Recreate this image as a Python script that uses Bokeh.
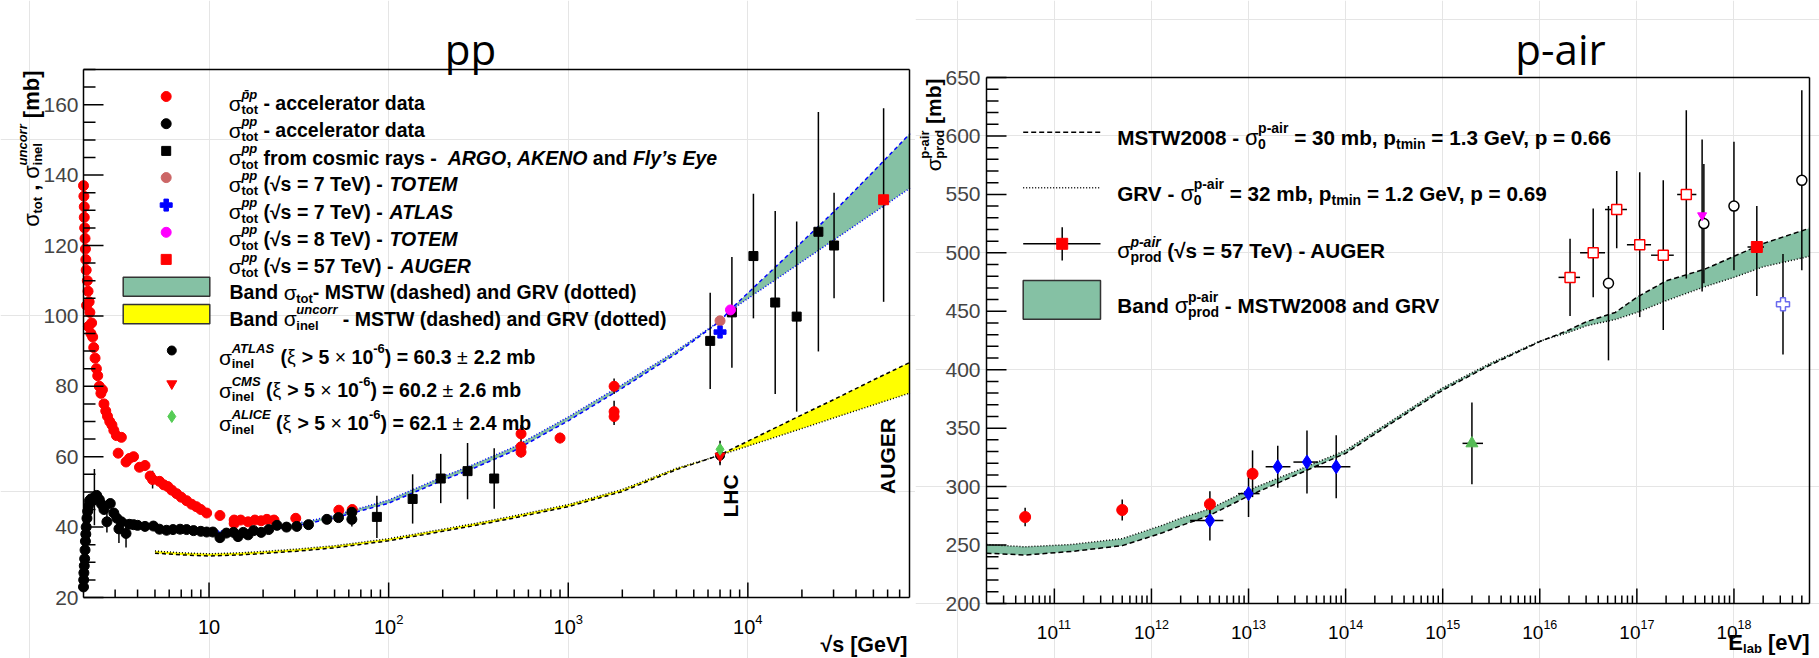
import numpy as np
from bokeh.plotting import figure
from bokeh.models import Range1d, Label
from bokeh.layouts import row
from bokeh.embed import file_html
from bokeh.resources import INLINE

# ======================= DATA : pp panel =======================
pbarp_sqrt_s = [2.00, 2.01, 2.02, 2.02, 2.03, 2.04, 2.05, 2.06, 2.07, 2.08, 2.10, 2.12, 2.13, 2.15, 2.17,
                2.20, 2.22, 2.25, 2.28, 2.32, 2.36, 2.40, 2.45, 2.50, 2.55, 2.60, 2.66, 2.72, 2.80, 2.88,
                2.95, 3.05, 3.12, 3.25, 3.45, 3.60, 3.80, 4.10, 4.40, 4.70, 4.85, 5.30, 5.60, 5.90, 6.20,
                6.60, 7.00, 7.50, 8.00, 8.50, 9.00, 9.70, 11.5, 13.8, 13.8, 15.0, 16.5, 18.0, 19.5, 21.0,
                23.0, 30.4, 52.8, 62.7, 546, 546, 546, 900, 1800, 1800, 1800]
pbarp_sigma = [137, 134, 131, 128, 125, 122, 119, 116, 113, 103, 110, 107, 97, 104, 101,
               95, 98, 94, 91, 88, 85, 83, 80, 78, 79, 75, 73, 71.5, 70, 69,
               67.5, 66, 61, 65.5, 58.5, 59.5, 60, 57, 57.5, 54.5, 53.5, 53, 52, 51.5, 50.5,
               49.5, 48.5, 47.5, 46.5, 45.8, 45, 44, 43.3, 42, 41, 42, 41.5, 42, 41.8, 42.2,
               42, 42.5, 44.8, 45, 66.5, 62.8, 61.3, 65.3, 80.0, 72.8, 71.4]
pbarp_err = [0] * 40 + [2.5] + [0] * 23 + [2.5, 1.5, 1.5, 1.5, 2.2, 3.1, 2.4]

pp_sqrt_s = [2.00, 2.005, 2.01, 2.02, 2.03, 2.04, 2.05, 2.06, 2.07, 2.09, 2.11, 2.13, 2.16, 2.20, 2.25,
             2.30, 2.37, 2.45, 2.52, 2.60, 2.70, 2.82, 2.95, 3.07, 3.15, 3.25, 3.45, 3.60, 3.80, 4.00,
             4.40, 4.90, 5.30, 5.80, 6.30, 6.90, 7.50, 8.20, 9.00, 9.70, 10.5, 11.5, 12.5, 13.7, 14.5,
             15.5, 16.5, 17.7, 19.5, 21.5, 23.9, 27.0, 30.8, 35.8, 45.3, 52.6, 62.4, 62.4]
pp_sigma = [23, 25, 27, 29, 31, 33.5, 36, 38, 40, 42.5, 44.5, 46, 47.5, 48, 47.5,
            48.5, 49, 47.8, 46.5, 45, 41.5, 46.7, 44, 42.5, 39.5, 41.5, 38.2, 40.8, 40.7, 40.5,
            40.2, 40.3, 39.4, 39.1, 39.3, 39.4, 39.3, 39.0, 38.8, 38.6, 38.6, 37.0, 38.3, 38.5, 37.3,
            38.5, 37.8, 39.0, 38.5, 39.3, 40.5, 40.0, 40.2, 40.7, 42.2, 42.7, 44.2, 42.2]
pp_err = [0] * 15 + [8, 0, 0, 0, 0, 3, 0, 0, 0, 4, 0, 4] + [0] * 30 + [2]

cosmic_sqrt_s = [86, 136, 195, 275, 387, 6170, 8150, 10740, 14200, 18700, 24700, 30200]
cosmic_sigma = [42.9, 48.0, 53.8, 55.9, 53.8, 92.9, 101.0, 117.0, 103.8, 99.8, 123.9, 120.0]
cosmic_err = [6.0, 7.0, 7.0, 8.0, 8.6, 13.7, 15.7, 17.7, 26.0, 27.0, 34.0, 15.0]

totem7_sqrt_s = [7000.0]
totem7_sigma = [98.6]
atlas7_sqrt_s = [7000.0]
atlas7_sigma = [95.4]
totem8_sqrt_s = [8000.0]
totem8_sigma = [101.7]
auger_pp_sqrt_s = [57000.0]
auger_pp_sigma = [133.0]
auger_pp_low = [104.0]
auger_pp_high = [159.0]

lhc_sqrt_s = [7000.0]
inel_atlas = [60.3]
inel_atlas_err = [2.2]
inel_cms = [60.2]
inel_cms_err = [2.6]
inel_alice = [62.1]
inel_alice_err = [2.4]

band_sqrt_s = [5, 7, 10, 15, 20, 30, 50, 100, 200, 300, 500, 1000, 2000, 4000, 7000, 8000,
               10000, 20000, 30000, 50000, 80000]
tot_mstw = [39.0, 38.6, 38.4, 38.6, 39.1, 40.3, 42.6, 46.8, 53.3, 56.8, 61.7, 70.2, 79.5, 89.3, 98.5, 101.8,
            106.5, 121.0, 129.5, 141.0, 151.8]
tot_grv = [39.4, 39.0, 38.8, 39.0, 39.6, 40.9, 43.3, 47.7, 54.3, 57.9, 62.8, 71.3, 80.5, 90.1, 98.6, 101.5,
           104.9, 115.4, 121.5, 129.2, 136.3]
inel_mstw = [32.6, 32.1, 31.8, 32.1, 32.5, 33.1, 34.1, 36.1, 38.8, 40.4, 42.6, 45.8, 50.1, 56.3, 60.5, 62.0,
             64.4, 71.9, 76.2, 81.8, 86.8]
inel_grv = [33.2, 32.7, 32.4, 32.7, 33.1, 33.7, 34.7, 36.7, 39.4, 41.0, 43.2, 46.4, 50.7, 56.7, 60.4, 61.4,
            63.0, 68.0, 71.0, 74.7, 78.1]

pp_y_ticks = [20, 40, 60, 80, 100, 120, 140, 160]
pp_x_ticks_exp = [1, 2, 3, 4]

# ======================= DATA : p-air panel =======================
red_E = [5e10, 5e11, 4e12, 1.1e13]
red_sig = [274, 280, 285, 311]
red_err = [8, 9, 11, 20]

blue_E = [4e12, 1e13, 2e13, 4e13, 8e13]
blue_sig = [271, 294, 317, 321, 317]
blue_err = [17, 20, 18, 27, 27]
blue_E_lo = [2.5e12, 7.8e12, 1.5e13, 2.9e13, 4.8e13]
blue_E_hi = [5.5e12, 1.3e13, 2.7e13, 5.2e13, 1.12e14]

green_E = [2e15]
green_sig = [337]
green_err = [35]
green_E_lo = [1.6e15]
green_E_hi = [2.6e15]

osq_E = [2.05e16, 3.55e16, 6.2e16, 1.07e17, 1.87e17, 3.23e17]
osq_sig = [479, 500, 537, 507, 498, 550]
osq_err = [33, 38, 33, 62, 64, 72]
osq_E_lo = [1.56e16, 2.6e16, 4.7e16, 7.9e16, 1.4e17, 2.6e17]
osq_E_hi = [2.6e16, 4.7e16, 7.9e16, 1.4e17, 2.4e17, 4.1e17]

ocirc_E = [5.1e16, 4.9e17, 1e18, 5e18]
ocirc_sig = [474, 525, 540, 562]
ocirc_err = [66, 51, 55, 77]

mag_E = [4.7e17]
mag_sig = [532]
mag_err = [65]

auger_E = [1.72e18]
auger_sig = [505]
auger_low = [463]
auger_high = [540]
auger_E_lo = [1.38e18]
auger_E_hi = [2.04e18]

bcross_E = [3.2e18]
bcross_sig = [456]
bcross_err = [43]

band_E = [2e10, 5e10, 1.5e11, 5e11, 1.3e12, 2e12, 4e12, 1e13, 3e13, 1e14, 3e14, 1e15, 3e15, 1e16, 2e16,
          3e16, 6e16, 1e17, 2e17, 5e17, 1e18, 2e18, 6e18]
pair_mstw = [243, 241.5, 244.5, 249.5, 260.5, 266.5, 275.5, 292, 309.5, 328.5, 354.5, 382.5, 403.5, 424, 434,
             441, 449, 462, 476, 486, 497, 508, 521]
pair_grv = [250.5, 248.5, 250.5, 255.5, 267, 273, 281, 297, 313, 331, 356.5, 384.5, 405, 424.5, 432,
            437.5, 443, 449, 459, 471, 479, 488, 497]

pair_y_ticks = [200, 250, 300, 350, 400, 450, 500, 550, 600, 650]
pair_x_ticks_exp = [11, 12, 13, 14, 15, 16, 17, 18]

# ======================= STYLE / LAYOUT =======================
FONT = "Liberation Sans"
GREEN = "#85c1a4"
W = 1819
H = 658
SPLIT = 915

# inner (drawn) frames, page pixels
L_LEFT, L_RIGHT, L_TOP, L_BOT = 83, 909, 69, 597
LX0, LX1 = float(np.log10(2.0)), 4.9
LY0, LY1 = 20.0, 170.0
R_LEFT, R_RIGHT, R_TOP, R_BOT = 986, 1809, 77, 603
RX0, RX1 = float(np.log10(2e10)), float(np.log10(6e18))
RY0, RY1 = 200.0, 650.0


def c1(px, py):
    lx = LX0 + (px - L_LEFT) / (L_RIGHT - L_LEFT) * (LX1 - LX0)
    return float(10.0 ** lx), float(LY1 - (py - L_TOP) / (L_BOT - L_TOP) * (LY1 - LY0))


def c2(px, py):
    lx = RX0 + (px - R_LEFT) / (R_RIGHT - R_LEFT) * (RX1 - RX0)
    return float(10.0 ** lx), float(RY1 - (py - R_TOP) / (R_BOT - R_TOP) * (RY1 - RY0))


def px1(x):
    return L_LEFT + (np.log10(x) - LX0) / (LX1 - LX0) * (L_RIGHT - L_LEFT)


def px2(x):
    return R_LEFT + (np.log10(x) - RX0) / (RX1 - RX0) * (R_RIGHT - R_LEFT)


def py1(v):
    return L_TOP + (LY1 - v) / (LY1 - LY0) * (L_BOT - L_TOP)


def py2(v):
    return R_TOP + (RY1 - v) / (RY1 - RY0) * (R_BOT - R_TOP)


W_REG = {' ': 278, '(': 333, ')': 333, ',': 278, '-': 333, '.': 278, '=': 584, '>': 584, '[': 278,
         ']': 278, '’': 222, '±': 584, '×': 584, '√': 549, 'σ': 600, 'ξ': 480, '\u0304': 0,
         'A': 667, 'B': 667, 'C': 722, 'D': 722, 'E': 667, 'F': 611, 'G': 778, 'H': 722, 'I': 278,
         'J': 500, 'K': 667, 'L': 556, 'M': 833, 'N': 722, 'O': 778, 'P': 667, 'Q': 778, 'R': 722,
         'S': 667, 'T': 611, 'U': 722, 'V': 667, 'W': 944, 'X': 667, 'Y': 667, 'Z': 611,
         'a': 556, 'b': 556, 'c': 500, 'd': 556, 'e': 556, 'f': 278, 'g': 556, 'h': 556, 'i': 222,
         'j': 222, 'k': 500, 'l': 222, 'm': 833, 'n': 556, 'o': 556, 'p': 556, 'q': 556, 'r': 333,
         's': 500, 't': 278, 'u': 556, 'v': 500, 'w': 722, 'x': 500, 'y': 500, 'z': 500}
W_BOLD = dict(W_REG)
W_BOLD.update({'[': 333, ']': 333, '’': 278, 'A': 722, 'B': 722, 'J': 556, 'K': 722, 'L': 611,
               'a': 556, 'b': 611, 'c': 556, 'd': 611, 'e': 556, 'f': 333, 'g': 611, 'h': 611,
               'i': 278, 'j': 278, 'k': 556, 'l': 278, 'm': 889, 'n': 611, 'o': 611, 'p': 611,
               'q': 611, 'r': 389, 's': 556, 't': 333, 'u': 611, 'v': 556, 'w': 778, 'x': 556,
               'y': 556, 'z': 500})


def tw(s, size, style):
    tbl = W_BOLD if "bold" in style else W_REG
    return sum(tbl.get(ch, 556) for ch in s) / 1000.0 * size


def rich(fig, conv, x, y, segs, rotate=False, align="left", font=FONT, color="black"):
    if len(segs) == 1 and not isinstance(segs[0], list):
        t, sz, st = segs[0][0], segs[0][1], segs[0][2]
        dx, dd = conv(x, y)
        fig.add_layout(Label(x=dx, y=dd, text=t.strip(" "), text_font=font, text_font_size=f"{sz}px",
                             text_font_style=st, text_baseline="alphabetic", text_align=align,
                             angle=(float(np.pi / 2) if rotate else 0.0), text_color=color))
        return
    widths = []
    for s in segs:
        if isinstance(s, list):
            widths.append(max(tw(t, sz, st) for t, sz, st, dy in s))
        else:
            widths.append(tw(s[0], s[1], s[2]))
    total = sum(widths)
    a = 0.0 if align == "left" else (-total if align == "right" else -total / 2.0)
    for s, w in zip(segs, widths):
        items = s if isinstance(s, list) else [s]
        for it in items:
            t, sz, st = it[0], it[1], it[2]
            dy = it[3] if len(it) > 3 else 0
            lead = len(t) - len(t.lstrip(" "))
            shift = tw(" " * lead, sz, st)
            txt = t.strip(" ")
            if not txt:
                continue
            if rotate:
                px, py = x - dy, y - (a + shift)
            else:
                px, py = x + a + shift, y - dy
            dx, dd = conv(px, py)
            fig.add_layout(Label(x=dx, y=dd, text=txt, text_font=font, text_font_size=f"{sz}px",
                                 text_font_style=st, text_baseline="alphabetic", text_align="left",
                                 angle=(float(np.pi / 2) if rotate else 0.0), text_color=color))
        a += w


def make_fig(width, conv, x_lo_px, x_hi_px):
    x0, y_top = conv(x_lo_px, 0)
    x1, y_bot = conv(x_hi_px, H)
    p = figure(width=width, height=H, x_axis_type="log", x_axis_location=None, y_axis_location=None,
               x_range=Range1d(x0, x1), y_range=Range1d(y_bot, y_top), title=None,
               output_backend="svg", toolbar_location=None,
               min_border_left=0, min_border_right=0, min_border_top=0, min_border_bottom=0)
    p.outline_line_color = None
    p.background_fill_color = "white"
    p.border_fill_color = "white"
    return p


def frame_and_ticks(fig, conv, left, right, top, bot, yt_major, yt_minor, xt_major, xt_minor,
                    ymaj_len=20, ymin_len=12, xmaj_len=15, xmin_len=8, ypix=None, xpix=None):
    x0s, x1s, y0s, y1s = [], [], [], []
    for (a, b, c, d) in [(left, top, right, top), (left, bot, right, bot), (left, top, left, bot),
                         (right, top, right, bot)]:
        xa, ya = conv(a, b)
        xb, yb = conv(c, d)
        x0s.append(xa); y0s.append(ya); x1s.append(xb); y1s.append(yb)
    for vals, ln in [(yt_major, ymaj_len), (yt_minor, ymin_len)]:
        for v in vals:
            py = ypix(v)
            xa, ya = conv(left, py)
            xb, yb = conv(left + ln, py)
            x0s.append(xa); y0s.append(ya); x1s.append(xb); y1s.append(yb)
    for vals, ln in [(xt_major, xmaj_len), (xt_minor, xmin_len)]:
        for v in vals:
            px = xpix(v)
            xa, ya = conv(px, bot)
            xb, yb = conv(px, bot - ln)
            x0s.append(xa); y0s.append(ya); x1s.append(xb); y1s.append(yb)
    fig.segment(x0=x0s, x1=x1s, y0=y0s, y1=y1s, line_color="black", line_width=1.5)


def errbars(fig, xs, ys, errs, color="black", lo=None, hi=None):
    x0, y0, y1 = [], [], []
    for i, (x, y) in enumerate(zip(xs, ys)):
        if lo is not None:
            x0.append(x); y0.append(lo[i]); y1.append(hi[i])
        elif errs[i] > 0:
            x0.append(x); y0.append(y - errs[i]); y1.append(y + errs[i])
    if x0:
        fig.segment(x0=x0, x1=x0, y0=y0, y1=y1, line_color=color, line_width=1.5)


def herrbars(fig, lo, hi, ys, color="black"):
    fig.segment(x0=lo, x1=hi, y0=ys, y1=ys, line_color=color, line_width=1.5)


# ======================= LEFT : pp =======================
p1 = make_fig(SPLIT, c1, 0, SPLIT)

p1.varea(x=band_sqrt_s, y1=tot_grv, y2=tot_mstw, fill_color=GREEN)
p1.varea(x=band_sqrt_s, y1=inel_grv, y2=inel_mstw, fill_color="#ffff00")
p1.line(band_sqrt_s, tot_mstw, line_color="blue", line_width=1.5, line_dash="4 3")
p1.line(band_sqrt_s, tot_grv, line_color="blue", line_width=1.5, line_dash="1 2")
p1.line(band_sqrt_s, inel_mstw, line_color="black", line_width=1.5, line_dash="4 3")
p1.line(band_sqrt_s, inel_grv, line_color="black", line_width=1.5, line_dash="1 2")

errbars(p1, pbarp_sqrt_s, pbarp_sigma, pbarp_err)
errbars(p1, pp_sqrt_s, pp_sigma, pp_err)
errbars(p1, cosmic_sqrt_s, cosmic_sigma, cosmic_err)
errbars(p1, auger_pp_sqrt_s, auger_pp_sigma, None, lo=auger_pp_low, hi=auger_pp_high)
errbars(p1, lhc_sqrt_s * 3, inel_atlas + inel_cms + inel_alice, inel_atlas_err + inel_cms_err + inel_alice_err)

p1.scatter(pbarp_sqrt_s, pbarp_sigma, marker="circle", size=10, fill_color="red", line_color="red")
p1.scatter(pp_sqrt_s, pp_sigma, marker="circle", size=10, fill_color="black", line_color="black")
p1.scatter(cosmic_sqrt_s, cosmic_sigma, marker="square", size=9, fill_color="black", line_color="black")
p1.scatter(totem7_sqrt_s, totem7_sigma, marker="circle", size=10, fill_color="#cc6666", line_color="#cc6666")
p1.scatter(atlas7_sqrt_s, atlas7_sigma, marker="plus", size=12, fill_color="blue", line_color="blue")
p1.scatter(totem8_sqrt_s, totem8_sigma, marker="circle", size=10, fill_color="#ff00ff", line_color="#ff00ff")
p1.scatter(auger_pp_sqrt_s, auger_pp_sigma, marker="square", size=10, fill_color="red", line_color="red")
p1.scatter(lhc_sqrt_s, inel_atlas, marker="circle", size=9, fill_color="black", line_color="black")
p1.scatter(lhc_sqrt_s, inel_cms, marker="inverted_triangle", size=10, fill_color="red", line_color="red")
p1.scatter(lhc_sqrt_s, inel_alice, marker="diamond", size=12, fill_color="#55cc55", line_color="#55cc55")

minor_l = [m * 10.0 ** e for e in range(0, 5) for m in range(2, 10) if 2 < m * 10.0 ** e < 10 ** 4.9]
frame_and_ticks(p1, c1, L_LEFT, L_RIGHT, L_TOP, L_BOT,
                pp_y_ticks, [v for v in range(25, 171, 5) if v % 20 != 0],
                [10.0 ** e for e in pp_x_ticks_exp], minor_l, ypix=py1, xpix=px1)

M = 19.5
S = 13
SUPY = 9
SUBY = -6.5
sig = ("σ", 21, "normal", 0)


def stk(sup, sub, sup_style="bold italic"):
    return [(sup, S, sup_style, SUPY), (sub, S, "bold", SUBY)]


leg_y = [96, 123.2, 150.4, 177.1, 204.6, 231.8, 258.9]
leg_mk = [("circle", "red", 10), ("circle", "black", 10), ("square", "black", 9),
          ("circle", "#cc6666", 10), ("plus", "blue", 12), ("circle", "#ff00ff", 10), ("square", "red", 10)]
for yy, (mk, col, sz) in zip(leg_y, leg_mk):
    xx, yd = c1(165.7, yy)
    p1.scatter([xx], [yd], marker=mk, size=sz, fill_color=col, line_color=col)

TX = 228.3
rich(p1, c1, TX, leg_y[0] + 6.6, [sig, stk("p\u0304p", "tot"), (" - accelerator data", M, "bold")])
rich(p1, c1, TX, leg_y[1] + 6.6, [sig, stk("pp", "tot"), (" - accelerator data", M, "bold")])
rich(p1, c1, TX, leg_y[2] + 6.6, [sig, stk("pp", "tot"), (" from cosmic rays -  ", M, "bold"),
                                  ("ARGO", M, "bold italic"), (", ", M, "bold"), ("AKENO", M, "bold italic"),
                                  (" and ", M, "bold"), ("Fly’s Eye", M, "bold italic")])
for yy, e, ex in [(leg_y[3], "7", "TOTEM"), (leg_y[4], "7", "ATLAS"), (leg_y[5], "8", "TOTEM"),
                  (leg_y[6], "57", "AUGER")]:
    rich(p1, c1, TX, yy + 6.6, [sig, stk("pp", "tot"), (f" (√s = {e} TeV) - ", M, "bold"),
                                (ex, M, "bold italic")])

for (y0, y1, col) in [(276.8, 295.7, GREEN), (304.0, 323.2, "#ffff00")]:
    l, t = c1(122.7, y0)
    r, b = c1(209.3, y1)
    p1.quad(left=[l], right=[r], top=[t], bottom=[b], fill_color=col, line_color="#333333", line_width=1.5)
rich(p1, c1, 229, 291.7, [("Band ", M, "bold"), sig, ("tot", S, "bold", SUBY),
                          ("- MSTW (dashed) and GRV (dotted)", M, "bold")])
rich(p1, c1, 229, 318.3, [("Band ", M, "bold"), sig, stk("uncorr", "inel"),
                          (" - MSTW (dashed) and GRV (dotted)", M, "bold")])

leg2 = [(350, "circle", "black", 9, "ATLAS", "60.3", "2.2"),
        (383.2, "inverted_triangle", "red", 10, "CMS", "60.2", "2.6"),
        (416, "diamond", "#55cc55", 12, "ALICE", "62.1", "2.4")]
for yy, mk, col, sz, exp, val, er in leg2:
    xx, yd = c1(171.3, yy)
    p1.scatter([xx], [yd], marker=mk, size=sz, fill_color=col, line_color=col)
    rich(p1, c1, 218.6, yy + 6.5, [sig, stk(exp, "inel"), (" (", M, "bold"), ("ξ", M, "normal"),
                                   (" > 5 ", M, "bold"), ("×", M, "normal"), (" 10", M, "bold"),
                                   ("-6", S, "bold", SUPY), (f") = {val} ", M, "bold"), ("±", M, "normal"),
                                   (f" {er} mb", M, "bold")])

rich(p1, c1, 730, 495.5, [("LHC", 21, "bold")], rotate=True, align="center")
rich(p1, c1, 887, 455.5, [("AUGER", 21, "bold")], rotate=True, align="center")

for v in pp_y_ticks:
    xx, _ = c1(78, 0)
    p1.add_layout(Label(x=xx, y=float(v), text=str(v), text_font=FONT, text_font_size="21px",
                        text_align="right", text_baseline="middle"))
for e in pp_x_ticks_exp:
    segs = [("10", 20, "normal", 0)]
    if e > 1:
        segs.append((str(e), 13, "normal", 8))
    rich(p1, c1, px1(10.0 ** e), 626.7, segs, align="center")

rich(p1, c1, 907, 644, [("√s [GeV]", 21.5, "bold")], align="right")
rich(p1, c1, 30.5, 70, [("σ", 22, "normal", 0), ("tot", 13, "bold", -6), (" , ", 22, "bold", 0),
                        ("σ", 22, "normal", 0),
                        [("uncorr", 13, "bold italic", 9), ("inel", 13, "bold", -6)],
                        (" [mb]", 22, "bold", 0)], rotate=True, align="right")
rich(p1, c1, 470, 48, [("pp", 42, "normal")], align="center", font="Open Sans")

# ======================= RIGHT : p-air =======================
p2 = make_fig(W - SPLIT, c2, SPLIT, W)

p2.varea(x=band_E, y1=pair_grv, y2=pair_mstw, fill_color=GREEN)
p2.line(band_E, pair_mstw, line_color="black", line_width=1.5, line_dash="5 3")
p2.line(band_E, pair_grv, line_color="black", line_width=1.5, line_dash="1 2")

errbars(p2, red_E, red_sig, red_err)
errbars(p2, blue_E, blue_sig, blue_err)
herrbars(p2, blue_E_lo, blue_E_hi, blue_sig)
errbars(p2, green_E, green_sig, green_err)
herrbars(p2, green_E_lo, green_E_hi, green_sig)
errbars(p2, osq_E, osq_sig, osq_err)
herrbars(p2, osq_E_lo, osq_E_hi, osq_sig)
errbars(p2, ocirc_E, ocirc_sig, ocirc_err)
errbars(p2, mag_E, mag_sig, mag_err)
errbars(p2, auger_E, auger_sig, None, lo=auger_low, hi=auger_high)
herrbars(p2, auger_E_lo, auger_E_hi, auger_sig)
errbars(p2, bcross_E, bcross_sig, bcross_err)

p2.scatter(red_E, red_sig, marker="circle", size=11, fill_color="red", line_color="red")
p2.scatter(blue_E, blue_sig, marker="diamond", size=14, fill_color="blue", line_color="blue")
p2.scatter(green_E, green_sig, marker="triangle", size=12, fill_color="#55bb55", line_color="#55bb55")
p2.scatter(osq_E, osq_sig, marker="square", size=10, fill_color="white", line_color="red", line_width=1.5)
p2.scatter(ocirc_E, ocirc_sig, marker="circle", size=10, fill_color="white", line_color="black", line_width=1.5)
p2.scatter(mag_E, mag_sig, marker="inverted_triangle", size=9, fill_color="#ff00ff", line_color="#ff00ff")
p2.scatter(auger_E, auger_sig, marker="square", size=11, fill_color="red", line_color="red")
p2.scatter(bcross_E, bcross_sig, marker="plus", size=13, fill_color="white", line_color="#6a6aee", line_width=1.5)

minor_r = [m * 10.0 ** e for e in range(10, 19) for m in range(2, 10) if 2e10 < m * 10.0 ** e < 6e18]
frame_and_ticks(p2, c2, R_LEFT, R_RIGHT, R_TOP, R_BOT,
                pair_y_ticks, [v for v in range(210, 650, 10) if v % 50 != 0],
                [10.0 ** e for e in pair_x_ticks_exp], minor_r, ypix=py2, xpix=px2)

M2 = 20.7
S2 = 14
sig2 = ("σ", 22, "normal", 0)
xa, ya = c2(1022.7, 131.7)
xb, _ = c2(1100, 131.7)
p2.line([xa, xb], [ya, ya], line_color="black", line_width=1.5, line_dash="5 3")
_, yb = c2(1022.7, 187.3)
p2.line([xa, xb], [yb, yb], line_color="black", line_width=1.5, line_dash="1 2")
_, yc = c2(1022.7, 243.3)
xm, _ = c2(1061.7, 243.3)
_, yv0 = c2(1000, 226.7)
_, yv1 = c2(1000, 260)
p2.segment(x0=[xa, xm], x1=[xb, xm], y0=[yc, yv0], y1=[yc, yv1], line_color="black", line_width=1.5)
p2.scatter([xm], [yc], marker="square", size=11, fill_color="red", line_color="red")
_, bt = c2(1000, 280)
_, bb = c2(1000, 318.7)
p2.quad(left=[xa], right=[xb], top=[bt], bottom=[bb], fill_color=GREEN, line_color="#333333", line_width=1.5)

RT = 1116.7
rich(p2, c2, RT, 136.7, [("MSTW2008 - ", M2, "bold"), sig2,
                         [("p-air", S2, "bold", 9), ("0", S2, "bold", -6.5)],
                         (" = 30 mb, p", M2, "bold"), ("tmin", S2, "bold", -6.5),
                         (" = 1.3 GeV, p = 0.66", M2, "bold")])
rich(p2, c2, RT, 192.7, [("GRV - ", M2, "bold"), sig2,
                         [("p-air", S2, "bold", 9), ("0", S2, "bold", -6.5)],
                         (" = 32 mb, p", M2, "bold"), ("tmin", S2, "bold", -6.5),
                         (" = 1.2 GeV, p = 0.69", M2, "bold")])
rich(p2, c2, RT, 250, [sig2, [("p-air", S2, "bold italic", 9), ("prod", S2, "bold", -6.5)],
                       (" (√s = 57 TeV) - AUGER", M2, "bold")])
rich(p2, c2, RT, 305, [("Band ", M2, "bold"), sig2, [("p-air", S2, "bold", 9), ("prod", S2, "bold", -6.5)],
                       (" - MSTW2008 and GRV", M2, "bold")])

for v in pair_y_ticks:
    xx, _ = c2(980, 300)
    p2.add_layout(Label(x=xx, y=float(v), text=str(v), text_font=FONT, text_font_size="21px",
                        text_align="right", text_baseline="middle"))
for e in pair_x_ticks_exp:
    rich(p2, c2, px2(10.0 ** e), 631.7, [("10", 19, "normal", 0), (str(e), 12.5, "normal", 8)], align="center")

rich(p2, c2, 1809, 642, [("E", 22, "bold", 0), ("lab", 13, "bold", -5.5), (" [eV]", 22, "bold", 0)], align="right")
rich(p2, c2, 932.5, 78, [("σ", 21, "normal", 0),
                         [("p-air", 13, "bold", 9), ("prod", 13, "bold", -6)],
                         (" [mb]", 21, "bold", 0)], rotate=True, align="right")
rich(p2, c2, 1560, 48, [("p-air", 42, "normal")], align="center", font="Open Sans")

layout = row(p1, p2)
open("out.html", "w").write(file_html(layout, INLINE))
